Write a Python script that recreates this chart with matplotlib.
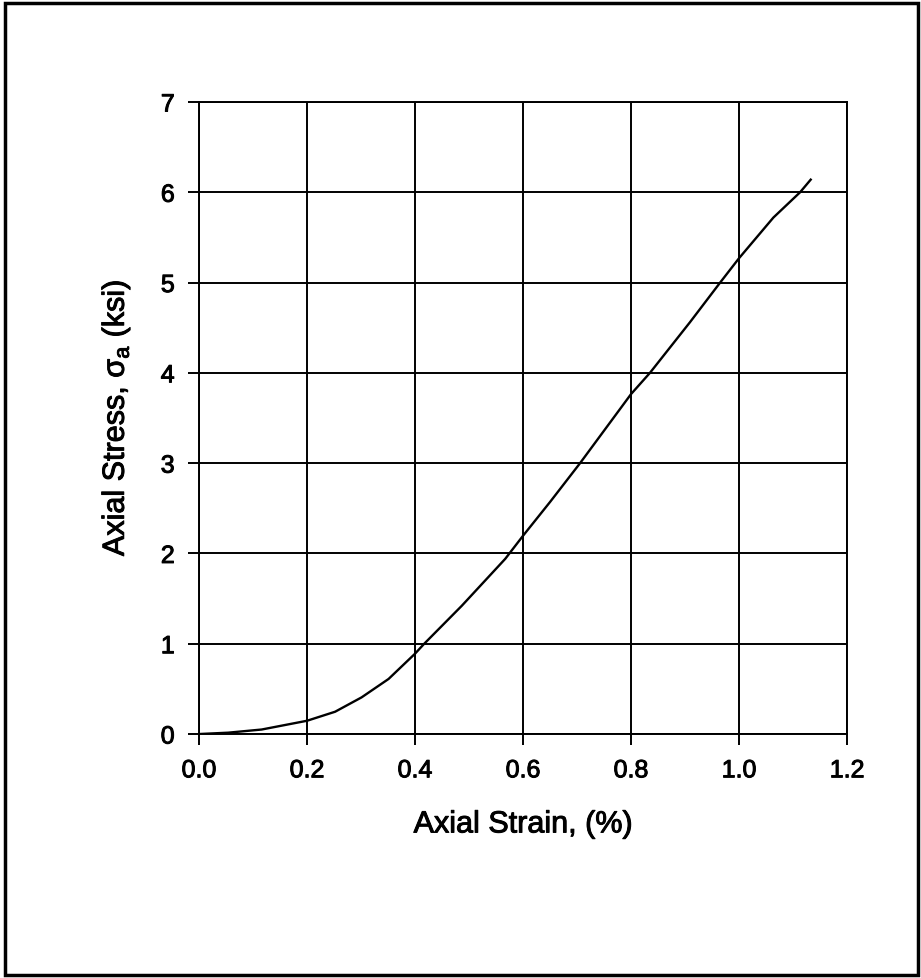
import matplotlib
matplotlib.use("Agg")
import matplotlib.pyplot as plt
import matplotlib.patheffects as pe
from matplotlib.patches import Rectangle

# values
strain = [0.0, 0.054, 0.116, 0.2, 0.252, 0.301, 0.351, 0.4, 0.417, 0.4865, 0.567,
          0.6, 0.65, 0.7056, 0.8, 0.835, 0.909, 0.965, 1.0, 1.0636, 1.113, 1.1327]
stress = [0.0, 0.015, 0.05, 0.147, 0.247, 0.406, 0.61, 0.89, 1.0, 1.42, 1.94,
          2.196, 2.57, 3.0, 3.765, 4.0, 4.56, 5.0, 5.27, 5.72, 6.0, 6.14]

xticks = [0.0, 0.2, 0.4, 0.6, 0.8, 1.0, 1.2]
yticks = [0, 1, 2, 3, 4, 5, 6, 7]

plt.rcParams['font.family'] = ['Liberation Sans', 'DejaVu Sans']

fig = plt.figure(figsize=(9.21, 9.79), dpi=100)
ax = fig.add_axes([0.2161, 0.2492, 0.7036, 0.6456])

ax.plot(strain, stress, color='black', linewidth=1.7, solid_joinstyle='round')

ax.set_xlim(0, 1.2)
ax.set_ylim(0, 7)
ax.set_xticks(xticks)
ax.set_xticklabels(['%.1f' % t for t in xticks])
ax.set_yticks(yticks)
ax.grid(True, color='black', linewidth=1.4)
for s in ax.spines.values():
    s.set_color('black')
    s.set_linewidth(1.4)
ax.tick_params(direction='out', length=8, width=1.4, colors='black',
               labelsize=18, pad=9.5)

# scanned text looks a bit heavier than plain regular weight
thick = [pe.withStroke(linewidth=0.7, foreground='black')]
for lab in ax.get_xticklabels() + ax.get_yticklabels():
    lab.set_path_effects(thick)

ax.set_xlabel('Axial Strain, (%)', fontsize=22, labelpad=19.5, path_effects=thick)
ax.set_ylabel('Axial Stress, σ$_\\mathregular{a}$ (ksi)', fontsize=22, labelpad=20,
              path_effects=thick)

# page border around the figure
fig.add_artist(Rectangle((0.005, 0.003), 0.992, 0.993, transform=fig.transFigure,
                         fill=False, edgecolor='black', linewidth=2.5))

fig.savefig('out.png', dpi=100)
